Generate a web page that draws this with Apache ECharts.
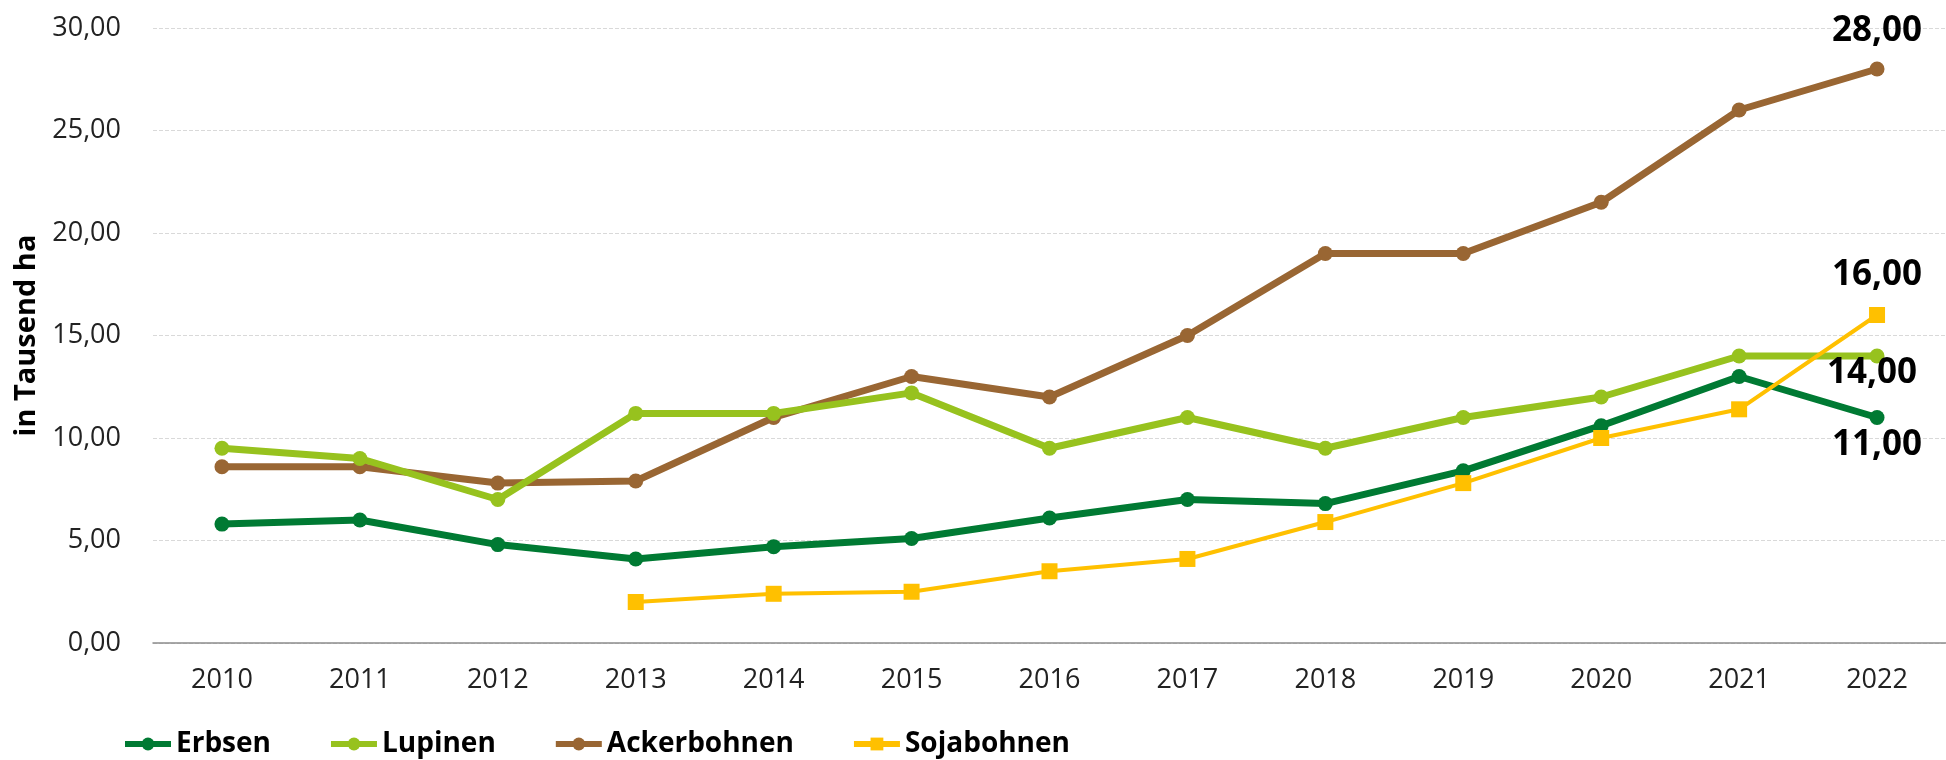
<!DOCTYPE html>
<html>
<head>
<meta charset="utf-8">
<script src="https://cdn.jsdelivr.net/npm/echarts@6/dist/echarts.min.js"></script>
<style>
  html, body { margin: 0; padding: 0; background: #fff; }
  #chart { width: 1946px; height: 760px; }
</style>
</head>
<body>
<div id="chart"></div>
<script>
// Daten (in Tausend ha)
const years = ['2010', '2011', '2012', '2013', '2014', '2015', '2016', '2017', '2018', '2019', '2020', '2021', '2022'];
const erbsen = [5.8, 6.0, 4.8, 4.1, 4.7, 5.1, 6.1, 7.0, 6.8, 8.4, 10.6, 13.0, 11.0];
const lupinen = [9.5, 9.0, 7.0, 11.2, 11.2, 12.2, 9.5, 11.0, 9.5, 11.0, 12.0, 14.0, 14.0];
const ackerbohnen = [8.6, 8.6, 7.8, 7.9, 11.0, 13.0, 12.0, 15.0, 19.0, 19.0, 21.5, 26.0, 28.0];
const sojabohnen = [null, null, null, 2.0, 2.4, 2.5, 3.5, 4.1, 5.9, 7.8, 10.0, 11.4, 16.0];

const fmt = v => Number(v).toFixed(2).replace('.', ',');
const font = '"Open Sans", "Noto Sans", sans-serif';

// nur letzter Wert bekommt ein Label
const withLastLabel = (arr, offset) => arr.map((v, i) => {
  if (i !== arr.length - 1) return v;
  return {
    value: v,
    label: {
      show: true,
      position: 'inside',
      offset: offset,
      formatter: p => fmt(p.value),
      fontSize: 35,
      fontWeight: 'bold',
      fontFamily: font,
      color: '#000'
    }
  };
});

const chart = echarts.init(document.getElementById('chart'));
chart.setOption({
  animation: false,
  grid: { left: 153, right: -2, top: 28, bottom: 117 },
  legend: {
    left: 117,
    top: 725,
    itemWidth: 46,
    itemHeight: 16,
    itemGap: 57,
    lineStyle: { width: 6 },
    textStyle: { fontSize: 28, fontWeight: 'bold', fontFamily: font, color: '#000' },
    data: ['Erbsen', 'Lupinen', 'Ackerbohnen', 'Sojabohnen']
  },
  xAxis: {
    type: 'category',
    data: years,
    boundaryGap: true,
    axisLine: { lineStyle: { color: '#8c8c8c', width: 1.5 } },
    axisTick: { show: false },
    axisLabel: { fontSize: 27, fontFamily: font, color: '#222', margin: 24 }
  },
  yAxis: {
    type: 'value',
    min: 0,
    max: 30,
    interval: 5,
    name: 'in Tausend ha',
    nameLocation: 'middle',
    nameRotate: 90,
    nameGap: 112,
    nameTextStyle: { fontSize: 29, fontWeight: 'bold', fontFamily: font, color: '#000' },
    axisLine: { show: false },
    axisTick: { show: false },
    axisLabel: { fontSize: 27, fontFamily: font, color: '#222', margin: 32, formatter: fmt },
    splitLine: { lineStyle: { color: '#d9d9d9', type: 'dashed', width: 1 } }
  },
  series: [
    {
      name: 'Erbsen',
      type: 'line',
      data: withLastLabel(erbsen, [0, 28]),
      color: '#007a33',
      lineStyle: { width: 7 },
      symbol: 'circle',
      symbolSize: 15,
      z: 4
    },
    {
      name: 'Lupinen',
      type: 'line',
      data: withLastLabel(lupinen, [-5, 17]),
      color: '#97c21e',
      lineStyle: { width: 7 },
      symbol: 'circle',
      symbolSize: 15,
      z: 3
    },
    {
      name: 'Ackerbohnen',
      type: 'line',
      data: withLastLabel(ackerbohnen, [0, -38]),
      color: '#996633',
      lineStyle: { width: 7 },
      symbol: 'circle',
      symbolSize: 15,
      z: 2
    },
    {
      name: 'Sojabohnen',
      type: 'line',
      data: withLastLabel(sojabohnen, [0, -40]),
      color: '#ffc000',
      lineStyle: { width: 4 },
      symbol: 'rect',
      symbolSize: 16,
      z: 5
    }
  ]
});
</script>
</body>
</html>
